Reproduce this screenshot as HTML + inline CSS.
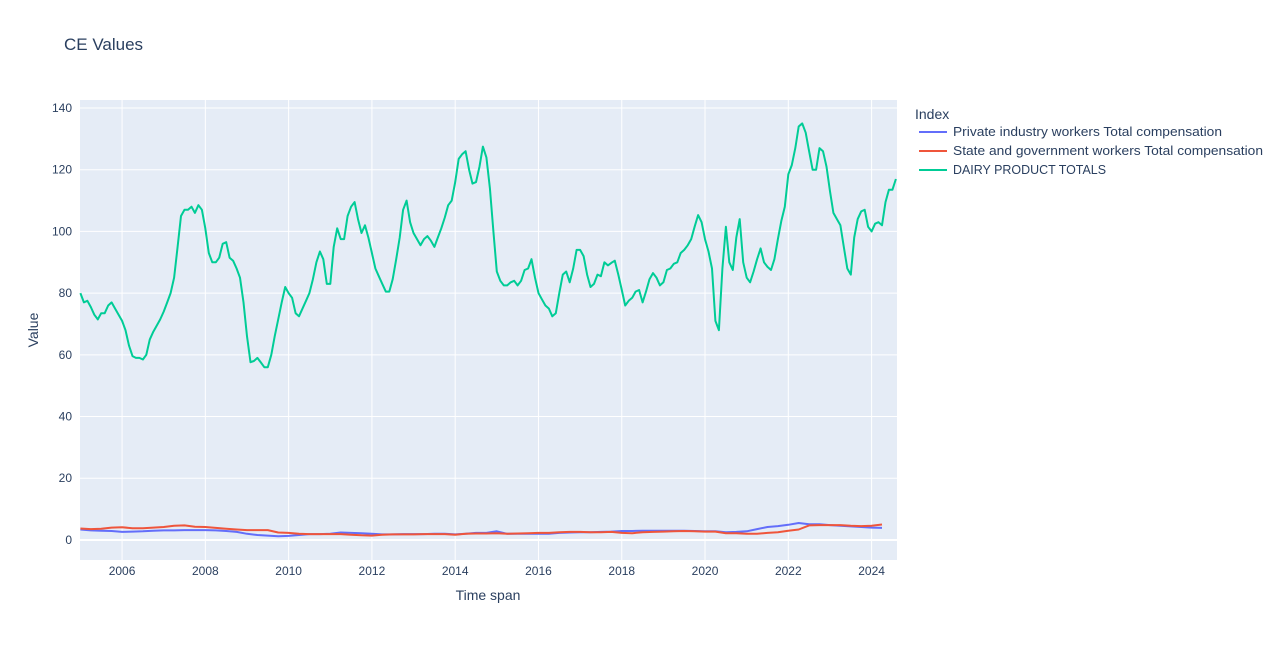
<!DOCTYPE html>
<html><head><meta charset="utf-8"><style>
body{margin:0;background:#fff;}
svg{font-family:"Liberation Sans",Arial,sans-serif;}
</style></head><body>
<svg id="chart" width="1280" height="640">
<rect width="1280" height="640" fill="#fff"/>
<text x="64" y="50" font-size="17" fill="#2a3f5f">CE Values</text>
<rect x="80" y="100" width="817" height="460" fill="#e5ecf6"/>
<g id="grid"></g>
<g id="series"></g>
<g id="ticks" font-size="12" fill="#2a3f5f"></g>
<text x="488" y="600" font-size="14" fill="#2a3f5f" text-anchor="middle">Time span</text>
<text transform="translate(38,330) rotate(-90)" font-size="14" fill="#2a3f5f" text-anchor="middle">Value</text>
<g>
<text x="915" y="119" font-size="14" fill="#2a3f5f">Index</text>
<g><line x1="919" y1="132" x2="947" y2="132" stroke="#636efa" stroke-width="2"/><text x="953" y="136" font-size="12.5" fill="#2a3f5f" textLength="269" lengthAdjust="spacingAndGlyphs">Private industry workers Total compensation</text></g>
<g><line x1="919" y1="151" x2="947" y2="151" stroke="#ef553b" stroke-width="2"/><text x="953" y="155" font-size="12.5" fill="#2a3f5f" textLength="310" lengthAdjust="spacingAndGlyphs">State and government workers Total compensation</text></g>
<g><line x1="919" y1="170" x2="947" y2="170" stroke="#00cc96" stroke-width="2"/><text x="953" y="174" font-size="12.5" fill="#2a3f5f" textLength="153" lengthAdjust="spacingAndGlyphs">DAIRY PRODUCT TOTALS</text></g>
</g>
</svg>
<script>
// Monthly dairy values starting Jan 2005
const dairyValues = [
80,77,77.5,75.5,73,71.5,73.5,73.5,76,77,75,73,
71,68,63,59.6,59,59,58.5,60,65,67.5,69.5,71.5,
74,77,80,85,95,105,107,107,108,106,108.5,107,
101,93,90,90,91.5,96,96.5,91.5,90.5,88,85,77,
66,57.6,58,59,57.5,56,56,60,66,71.5,77,82,
80,78.5,73.5,72.5,75,77.5,80,84.5,90,93.5,91,83,
83,95,101,97.5,97.5,105,108,109.5,104,99.5,102,98,
93,88,85.5,83,80.5,80.5,84.5,91,98,107,110,103,
99.5,97.5,95.5,97.5,98.5,97,95,98,101,104.5,108.5,110,
116,123.5,125,126,120,115.5,116,121,127.5,124,114,100,
87,84,82.5,82.5,83.5,84,82.5,84,87.5,88,91,85,
80,78,76,75,72.5,73.5,80,86,87,83.5,88,94,
94,92,86,82,83,86,85.5,90,89,89.8,90.5,86,
81,76,77.5,78.5,80.5,81,77,80.5,84.5,86.5,85,82.5,
83.5,87.5,88,89.5,90,93,94,95.5,97.5,101.5,105.3,103,
97.5,93.5,88,71,68,88,101.5,90,87.5,98,104,90,
85,83.5,87,91,94.5,90,88.5,87.5,91,97.5,103.5,108,
118.5,121.5,127,134,135,132,126,120,120,127,126,121,
113,106,104,102,95,88,86,98,104,106.5,107,101.5,
100,102.5,103,102,109.5,113.5,113.5,117];
// Quarterly values starting 2005 Q1
const privateValues = [
3.4,3.1,3.0,2.9, 2.6,2.7,2.8,3.0, 3.1,3.1,3.2,3.2, 3.2,3.1,2.9,2.6,
2.0,1.6,1.4,1.2, 1.3,1.6,1.9,1.9, 2.0,2.4,2.3,2.2, 2.0,1.8,1.8,1.9,
1.9,1.9,2.0,2.0, 1.8,2.0,2.3,2.3, 2.8,2.0,2.0,2.0, 2.0,2.0,2.3,2.4,
2.5,2.5,2.6,2.7, 2.9,2.9,3.0,3.0, 3.0,3.0,3.0,2.9, 2.8,2.8,2.5,2.6,
2.8,3.5,4.2,4.5, 4.9,5.5,5.1,5.1, 4.8,4.6,4.4,4.2, 4.0,3.9];
const stateValues = [
3.7,3.5,3.6,4.0, 4.1,3.8,3.8,4.0, 4.2,4.6,4.7,4.3, 4.2,3.9,3.6,3.4,
3.2,3.2,3.2,2.4, 2.3,2.0,1.9,1.9, 1.9,1.9,1.7,1.5, 1.4,1.7,1.8,1.8,
1.8,1.9,1.9,1.9, 1.7,2.0,2.1,2.1, 2.2,2.0,2.1,2.2, 2.3,2.3,2.5,2.6,
2.6,2.5,2.5,2.6, 2.3,2.2,2.5,2.6, 2.7,2.8,2.9,2.8, 2.7,2.7,2.2,2.2,
2.0,2.0,2.3,2.5, 3.0,3.4,4.7,4.8, 4.8,4.8,4.6,4.5, 4.6,5.0];
const yTicks = [0,20,40,60,80,100,120,140];
const xTicks = [2006,2008,2010,2012,2014,2016,2018,2020,2022,2024];
const startYear = 2005;

const NS="http://www.w3.org/2000/svg";
const X0=80,X1=897,Y0=100,Y1=560;
const xMin=2004.99,xMax=2024.61,yMin=-6.5,yMax=142.6;
function xs(t){return X0+(t-xMin)/(xMax-xMin)*(X1-X0);}
function ys(v){return Y1-(v-yMin)/(yMax-yMin)*(Y1-Y0);}
function mk(tag,attrs,parent){const e=document.createElementNS(NS,tag);for(const k in attrs)e.setAttribute(k,attrs[k]);parent.appendChild(e);return e;}
const grid=document.getElementById('grid'),ticks=document.getElementById('ticks'),ser=document.getElementById('series');
yTicks.forEach(v=>{
  const l=mk('line',{x1:X0,x2:X1,y1:ys(v),y2:ys(v),stroke:'#fff','stroke-width':v===0?2:1},grid);
  
  
  const t=mk('text',{x:X0-8,y:ys(v)+4,'text-anchor':'end'},ticks);t.textContent=v;
  
  
});
xTicks.forEach(v=>{
  const l=mk('line',{x1:xs(v),x2:xs(v),y1:Y0,y2:Y1,stroke:'#fff','stroke-width':1},grid);
  
  
  const t=mk('text',{x:xs(v),y:Y1+15,'text-anchor':'middle'},ticks);t.textContent=v;
  
  
});
function line(vals,step,color,name){
  const pts=vals.map((v,i)=>xs(startYear+i*step).toFixed(1)+','+ys(v).toFixed(1)).join(' ');
  const p=mk('polyline',{points:pts,fill:'none',stroke:color,'stroke-width':2,'stroke-linejoin':'round'},ser);
  
  
}
line(privateValues,0.25,'#636efa','private-line');
line(stateValues,0.25,'#ef553b','state-line');
line(dairyValues,1/12,'#00cc96','dairy-line');
</script>
</body></html>
